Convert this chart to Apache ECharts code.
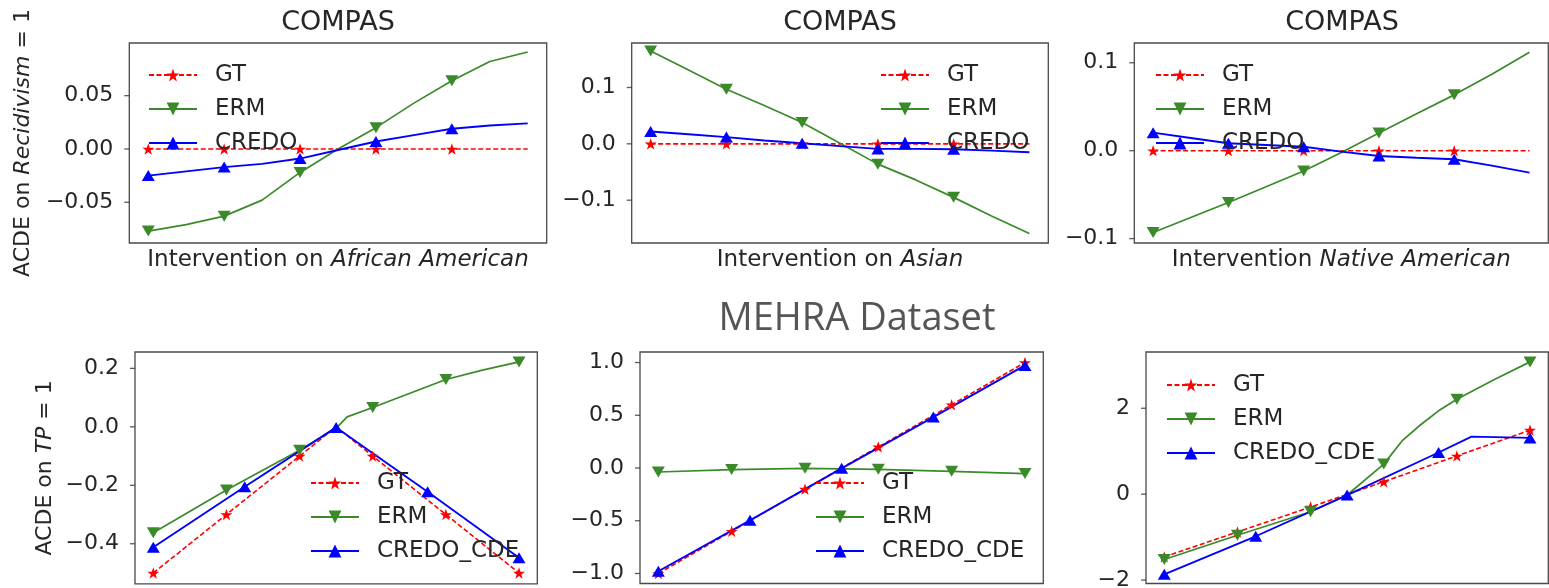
<!DOCTYPE html>
<html>
<head>
<meta charset="utf-8">
<script src="https://cdn.jsdelivr.net/npm/echarts@6/dist/echarts.min.js"></script>
<style>
  html, body { margin: 0; padding: 0; background: #ffffff; }
  #chart { width: 1549px; height: 588px; }
</style>
</head>
<body>
<div id="chart"></div>
<script>
// ---- intervention values (x) ----
const xGrid = [-1, -0.8, -0.6, -0.4, -0.2, 0, 0.2, 0.4, 0.6, 0.8, 1];
const xMarkTop = [-1, -0.6, -0.2, 0.2, 0.6];
const xSix = [-1, -0.6, -0.2, 0.2, 0.6, 1];
const xFive = [-1, -0.5, 0, 0.5, 1];

// ---- COMPAS: intervention on African American ----
const aaGT    = [0, 0, 0, 0, 0, 0, 0, 0, 0, 0, 0];
const aaERM   = [-0.077, -0.071, -0.063, -0.048, -0.022, 0.000, 0.020, 0.043, 0.064, 0.082, 0.091];
const aaCREDO = [-0.025, -0.021, -0.017, -0.014, -0.009, -0.001, 0.007, 0.013, 0.019, 0.022, 0.024];

// ---- COMPAS: intervention on Asian ----
const asGT    = [0, 0, 0, 0, 0, 0, 0, 0, 0, 0, 0];
const asERM   = [0.165, 0.131, 0.097, 0.068, 0.038, 0.001, -0.036, -0.064, -0.095, -0.128, -0.159];
const asCREDO = [0.022, 0.017, 0.012, 0.006, 0.001, -0.004, -0.009, -0.009, -0.0095, -0.012, -0.015];

// ---- COMPAS: intervention on Native American ----
const naGT    = [0, 0, 0, 0, 0, 0, 0, 0, 0, 0, 0];
const naERM   = [-0.093, -0.076, -0.059, -0.041, -0.023, -0.002, 0.020, 0.042, 0.0635, 0.087, 0.112];
const naCREDO = [0.0205, 0.0145, 0.0085, 0.0065, 0.0045, -0.001, -0.006, -0.008, -0.0098, -0.017, -0.025];

// ---- MEHRA: first intervention ----
const m1GTx    = [-1, -0.6, -0.2, 0, 0.2, 0.6, 1];
const m1GT     = [-0.5, -0.3, -0.1, 0, -0.1, -0.3, -0.5];
const m1ERMx   = [-1, -0.6, -0.2, 0, 0.06, 0.2, 0.4, 0.6, 0.8, 1];
const m1ERM    = [-0.362, -0.216, -0.080, -0.005, 0.034, 0.066, 0.114, 0.162, 0.194, 0.222];
const m1CREDO  = [-0.412, -0.205, -0.002, -0.222, -0.448];

// ---- MEHRA: second intervention ----
const m2GT     = [-1, -0.6, -0.2, 0.2, 0.6, 1];
const m2ERM    = [-0.038, -0.015, -0.003, -0.012, -0.031, -0.053];
const m2CREDO  = [-0.979, -0.496, -0.003, 0.483, 0.973];

// ---- MEHRA: third intervention ----
const m3GT     = [-1.46, -0.88, -0.30, 0.29, 0.89, 1.49];
const m3ERMx   = [-1, -0.6, -0.2, 0, 0.2, 0.3, 0.4, 0.5, 0.6, 0.8, 1];
const m3ERM    = [-1.52, -0.956, -0.41, -0.02, 0.70, 1.24, 1.61, 1.94, 2.21, 2.66, 3.08];
const m3CREDOx = [-1, -0.5, 0, 0.5, 0.68, 1];
const m3CREDO  = [-1.865, -0.98, -0.02, 0.97, 1.34, 1.31];

// ---- y-axis tick values ----
const ticksAA = [-0.05, 0, 0.05];
const ticksAS = [-0.1, 0, 0.1];
const ticksNA = [-0.1, 0, 0.1];
const ticksM1 = [-0.4, -0.2, 0, 0.2];
const ticksM2 = [-1, -0.5, 0, 0.5, 1];
const ticksM3 = [-2, 0, 2];

// ---- text ----
const panelTitles = ['COMPAS', 'COMPAS', 'COMPAS'];
const suptitle = 'MEHRA Dataset';

const FONT = 'DejaVu Sans';
const TXT = '#262626';
const RED = '#ff0000', GREEN = '#3a8a2a', BLUE = '#0000ff';
const STAR = 'path://M50,0 L61.8,35.1 L98.1,35.1 L68.8,56.7 L79.4,91 L50,70 L20.6,91 L31.2,56.7 L1.9,35.1 L38.2,35.1 Z';
const X_MIN = -1.1, X_MAX = 1.1;

// plot boxes [left, top, width, height]
const boxes = [
  [129.3, 43, 417.4, 200],
  [631.7, 43, 416.6, 200],
  [1134.3, 43, 414, 200],
  [135, 352, 402.3, 231.8],
  [640, 352, 403.3, 231.5],
  [1146, 352, 402.3, 231.5]
];
const yRanges = [
  [-0.0882, 0.0994], [-0.176, 0.179], [-0.105, 0.1225],
  [-0.537, 0.256], [-1.095, 1.1], [-2.08, 3.31]
];
const yTicks = [ticksAA, ticksAS, ticksNA, ticksM1, ticksM2, ticksM3];
const yDecimals = [2, 1, 1, 1, 1, 0];

function fmt(d) {
  return function (v) {
    const s = Math.abs(v).toFixed(d);
    return (v < -1e-12 ? '\u2212' : '') + s;
  };
}

function pts(xs, ys, marks) {
  return xs.map(function (x, i) {
    return marks.indexOf(x) >= 0 ? [x, ys[i]] : { value: [x, ys[i]], symbol: 'none' };
  });
}

const styleGT = {
  symbol: STAR, symbolSize: 12, symbolKeepAspect: true,
  itemStyle: { color: RED },
  lineStyle: { color: RED, width: 1.6, type: [5, 2.5] }
};
const styleERM = {
  symbol: 'triangle', symbolRotate: 180, symbolSize: [13, 11],
  itemStyle: { color: GREEN },
  lineStyle: { color: GREEN, width: 1.7 }
};
const styleCREDO = {
  symbol: 'triangle', symbolSize: [13, 11],
  itemStyle: { color: BLUE },
  lineStyle: { color: BLUE, width: 1.9 }
};

function line(name, gi, data, style) {
  return Object.assign({
    type: 'line', name: name, xAxisIndex: gi, yAxisIndex: gi, data: data,
    animation: false, z: 3, emphasis: { disabled: true }
  }, style);
}

const series = [
  line('GT', 0, pts(xGrid, aaGT, xMarkTop), styleGT),
  line('ERM', 0, pts(xGrid, aaERM, xMarkTop), styleERM),
  line('CREDO', 0, pts(xGrid, aaCREDO, xMarkTop), styleCREDO),
  line('GT', 1, pts(xGrid, asGT, xMarkTop), styleGT),
  line('ERM', 1, pts(xGrid, asERM, xMarkTop), styleERM),
  line('CREDO', 1, pts(xGrid, asCREDO, xMarkTop), styleCREDO),
  line('GT', 2, pts(xGrid, naGT, xMarkTop), styleGT),
  line('ERM', 2, pts(xGrid, naERM, xMarkTop), styleERM),
  line('CREDO', 2, pts(xGrid, naCREDO, xMarkTop), styleCREDO),
  line('GT', 3, pts(m1GTx, m1GT, xSix), styleGT),
  line('ERM', 3, pts(m1ERMx, m1ERM, xSix), styleERM),
  line('CREDO_CDE', 3, pts(xFive, m1CREDO, xFive), styleCREDO),
  line('GT', 4, pts(xSix, m2GT, xSix), styleGT),
  line('ERM', 4, pts(xSix, m2ERM, xSix), styleERM),
  line('CREDO_CDE', 4, pts(xFive, m2CREDO, xFive), styleCREDO),
  line('GT', 5, pts(xSix, m3GT, xSix), styleGT),
  line('ERM', 5, pts(m3ERMx, m3ERM, xSix), styleERM),
  line('CREDO_CDE', 5, pts(m3CREDOx, m3CREDO, xFive), styleCREDO)
];

// small outward tick marks on the left edge of every plot box
yTicks.forEach(function (ticks, gi) {
  series.push({
    type: 'scatter', name: 'ticks' + gi, xAxisIndex: gi, yAxisIndex: gi,
    data: ticks.map(function (t) { return [X_MIN, t]; }),
    symbol: 'rect', symbolSize: [5, 1.3], symbolOffset: [-2.5, 0],
    itemStyle: { color: '#333333' }, clip: false, silent: true, animation: false, z: 4
  });
});

const grids = boxes.map(function (b) {
  return {
    left: b[0], top: b[1], width: b[2], height: b[3],
    show: true, borderColor: '#4a4a4a', borderWidth: 1.3,
    backgroundColor: 'transparent', containLabel: false, outerBoundsMode: 'none'
  };
});

const richName = {
  n: { fontFamily: FONT, fontSize: 23, color: TXT },
  i: { fontFamily: FONT, fontSize: 23, color: TXT, fontStyle: 'italic' }
};
const richNameY = {
  n: { fontFamily: FONT, fontSize: 22, color: TXT },
  i: { fontFamily: FONT, fontSize: 22, color: TXT, fontStyle: 'italic' }
};
const xNames = [
  '{n|Intervention on }{i|African American}',
  '{n|Intervention on }{i|Asian}',
  '{n|Intervention }{i|Native American}',
  '', '', ''
];

const xAxes = boxes.map(function (b, i) {
  return {
    type: 'value', gridIndex: i, min: X_MIN, max: X_MAX,
    axisLine: { show: false }, axisTick: { show: false },
    axisLabel: { show: false }, splitLine: { show: false },
    name: xNames[i], nameLocation: 'middle', nameGap: 6,
    nameTextStyle: { fontFamily: FONT, fontSize: 23, color: TXT, rich: richName }
  };
});

const yNames = ['{n|ACDE on }{i|Recidivism}{n| = 1}', '', '', '{n|ACDE on }{i|TP}{n| = 1}', '', ''];
const yGaps = [95, 0, 0, 79, 0, 0];

const yAxes = boxes.map(function (b, i) {
  return {
    type: 'value', gridIndex: i, min: yRanges[i][0], max: yRanges[i][1],
    axisLine: { show: false }, splitLine: { show: false },
    axisTick: { show: false },
    axisLabel: {
      show: true, customValues: yTicks[i], formatter: fmt(yDecimals[i]),
      margin: 16, fontFamily: FONT, fontSize: 22, color: TXT
    },
    name: yNames[i], nameLocation: 'middle', nameRotate: 90, nameGap: yGaps[i],
    nameTextStyle: { fontFamily: FONT, fontSize: 22, color: TXT, rich: richNameY }
  };
});

const legendCommon = {
  orient: 'vertical', itemWidth: 48, itemHeight: 16, itemGap: 10, padding: 0,
  selectedMode: false, backgroundColor: 'transparent',
  textStyle: { fontFamily: FONT, fontSize: 23, color: TXT, lineHeight: 24, padding: [0, 0, 0, 13] }
};
const legendSpots = [
  [148, 63, ['GT', 'ERM', 'CREDO']],
  [880, 63, ['GT', 'ERM', 'CREDO']],
  [1155, 63, ['GT', 'ERM', 'CREDO']],
  [310, 471, ['GT', 'ERM', 'CREDO_CDE']],
  [815, 471, ['GT', 'ERM', 'CREDO_CDE']],
  [1166, 373, ['GT', 'ERM', 'CREDO_CDE']]
];
const legends = legendSpots.map(function (s) {
  return Object.assign({ left: s[0], top: s[1], data: s[2] }, legendCommon);
});

const titleCenters = [338, 840, 1342];
const graphics = titleCenters.map(function (cx, i) {
  return {
    type: 'text', x: cx, y: 23, silent: true,
    style: { text: panelTitles[i], font: '27px "DejaVu Sans"', fill: TXT, textAlign: 'center', textVerticalAlign: 'middle' }
  };
});
graphics.push({
  type: 'text', x: 857, y: 319, silent: true,
  style: { text: suptitle, font: '38px "Open Sans"', fill: '#555555', textAlign: 'center', textVerticalAlign: 'middle' }
});

const chart = echarts.init(document.getElementById('chart'), null, { renderer: 'canvas' });
chart.setOption({
  animation: false,
  backgroundColor: '#ffffff',
  grid: grids,
  xAxis: xAxes,
  yAxis: yAxes,
  legend: legends,
  graphic: graphics,
  series: series
});
</script>
</body>
</html>
